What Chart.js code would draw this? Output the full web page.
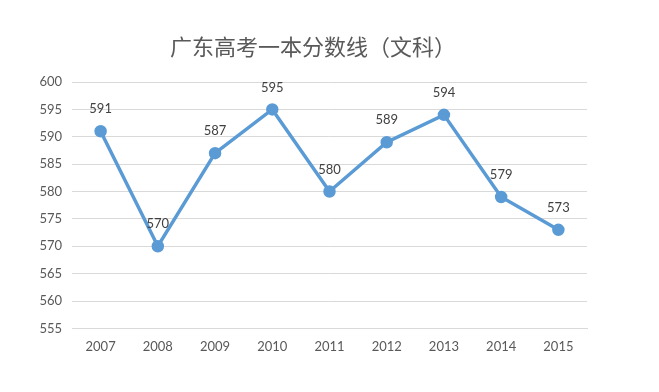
<!DOCTYPE html>
<html>
<head>
<meta charset="utf-8">
<script src="https://cdn.jsdelivr.net/npm/chart.js@4/dist/chart.umd.min.js"></script>
<style>
  html, body { margin: 0; padding: 0; background: #fff; }
  #wrap { width: 659px; height: 392px; }
</style>
</head>
<body>
<div id="wrap"><canvas id="chart"></canvas></div>
<script>
const YEARS = ['2007', '2008', '2009', '2010', '2011', '2012', '2013', '2014', '2015'];
const SCORES = [591, 570, 587, 595, 580, 589, 594, 579, 573];
const Y_MIN = 555;
const Y_MAX = 600;
const Y_STEP = 5;
const TITLE = '广东高考一本分数线（文科）';

const FONT = 'Lato, "Noto Sans", "Noto Sans CJK SC", sans-serif';

// title sits a bit right of the plot centre, so draw it by hand
const titleText = {
  id: 'titleText',
  afterDraw(chart) {
    const { ctx } = chart;
    ctx.save();
    ctx.font = '22px "Noto Sans CJK SC", sans-serif';
    ctx.fillStyle = '#595959';
    ctx.textAlign = 'center';
    ctx.textBaseline = 'middle';
    ctx.fillText(TITLE, 313, 47);
    ctx.restore();
  },
};

// values above each point, like Excel data labels
const pointLabels = {
  id: 'pointLabels',
  afterDatasetsDraw(chart) {
    const { ctx } = chart;
    const meta = chart.getDatasetMeta(0);
    ctx.save();
    ctx.font = '13px ' + FONT;
    ctx.fillStyle = '#404040';
    ctx.textAlign = 'center';
    ctx.textBaseline = 'middle';
    meta.data.forEach((pt, i) => {
      ctx.fillText(String(SCORES[i]), pt.x, pt.y - 22);
    });
    ctx.restore();
  },
};

new Chart(document.getElementById('chart'), {
  type: 'line',
  data: {
    labels: YEARS,
    datasets: [{
      data: SCORES,
      borderColor: '#5B9BD5',
      backgroundColor: '#5B9BD5',
      borderWidth: 3.5,
      pointRadius: 4.5,
      pointHoverRadius: 4.5,
      tension: 0,
    }],
  },
  options: {
    responsive: true,
    maintainAspectRatio: false,
    animation: false,
    layout: { padding: { left: 0, right: 72, top: 82, bottom: 26 } },
    plugins: {
      legend: { display: false },
      tooltip: { enabled: false },
      title: { display: false },
    },
    scales: {
      x: {
        offset: true,
        grid: { display: false, drawTicks: false },
        border: { display: true, color: '#d9d9d9' },
        ticks: { color: '#595959', font: { family: FONT, size: 13 }, padding: 11, maxRotation: 0 },
      },
      y: {
        min: Y_MIN,
        max: Y_MAX,
        afterFit: (s) => { s.width = 72; },
        grid: { color: '#d9d9d9', drawTicks: false },
        border: { display: false },
        ticks: { stepSize: Y_STEP, color: '#595959', font: { family: FONT, size: 13 }, padding: 10 },
      },
    },
  },
  plugins: [pointLabels, titleText],
});
</script>
</body>
</html>
